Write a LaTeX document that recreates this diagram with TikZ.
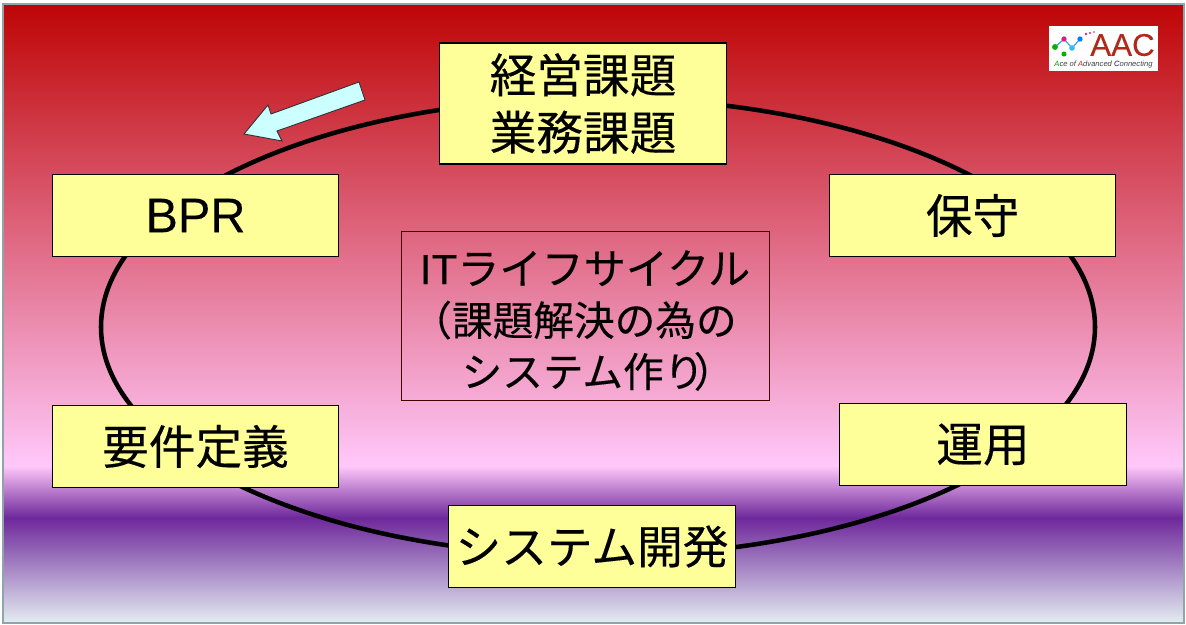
\documentclass[tikz,border=0pt]{standalone}
\usepackage{fontspec}
\setmainfont{Liberation Sans}
\newfontfamily\cjk[FakeBold=0.25]{Noto Sans CJK JP}
\newfontfamily\latinbody[FakeBold=0.1]{Liberation Sans}
\usetikzlibrary{shapes.geometric}
\definecolor{boxyellow}{RGB}{255,255,153}
\definecolor{arrowcyan}{RGB}{204,255,255}
\definecolor{frameteal}{RGB}{143,165,168}
\definecolor{logored}{RGB}{178,40,25}
\definecolor{bgtop}{RGB}{190,5,5}
\definecolor{bgpink}{RGB}{255,200,250}
\definecolor{bgpurple}{RGB}{110,40,155}
\definecolor{bgpale}{RGB}{228,237,242}
\pgfdeclareverticalshading{slidebg}{100bp}{
  color(0bp)=(bgpale);
  color(25bp)=(bgpale);
  color(33.5bp)=(bgpurple);
  color(37.7bp)=(bgpink);
  color(75bp)=(bgtop);
  color(100bp)=(bgtop)}
\tikzset{
  x=0.75pt,y=-0.75pt,
  topic/.style={draw=black,line width=0.9pt,fill=boxyellow,minimum width=214.8pt,minimum height=61pt,inner sep=0pt,align=center,text=black,font=\fontsize{35}{43}\selectfont\cjk},
  centerbox/.style={draw=black!75!red,line width=0.7pt,minimum width=276pt,minimum height=126.75pt,inner sep=0pt,align=center,text=black,font=\fontsize{30.5}{38.5}\selectfont\cjk},
  cycle/.style={draw=black,line width=3.4pt,ellipse,minimum width=745.5pt,minimum height=343.5pt,inner sep=0pt},
  dot/.style={circle,inner sep=0pt,minimum size=#1},
  dot/.default=4pt
}
\begin{document}
\begin{tikzpicture}
\useasboundingbox (0,0) rectangle (1186,625);
\fill[white] (0,0) rectangle (1186,625);
\shade[shading=slidebg] (3,4) rectangle (1184,623);
\draw[frameteal,line width=1.8pt] (3,4) rectangle (1184,623);
\node[cycle] (ring) at (598,327) {};
% arrow
\draw[fill=arrowcyan,draw=black!80,line width=0.7pt,line join=miter]
  (244,134) -- (268,105) -- (271,114) -- (359,82) -- (365,100) -- (277,131) -- (282,141) -- cycle;
% boxes
\node[topic,minimum height=90.75pt] (issues) at (583,103.5) {経営課題\\業務課題};
\node[topic] (bpr) at (195.5,215.5) {\fontsize{36.5}{43}\selectfont\latinbody BPR};
\node[topic] (hoshu) at (972.5,215.5) {保守};
\node[topic] (req) at (195.5,446.5) {要件定義};
\node[topic] (unyo) at (983,444.5) {運用};
\node[topic] (dev) at (592,546.5) {\fontsize{34.3}{43}\selectfont システム開発};
\node[centerbox] (core) at (585,315.5) {\rule{0pt}{33pt}{\fontsize{31.6}{38.5}\selectfont{\latinbody IT}ライフサイクル}\\（課題解決の為の\rule{16.5pt}{0pt}\\\rule{19.5pt}{0pt}システム作り\hspace{-8pt}）};
% logo
\node[fill=white,minimum width=81.75pt,minimum height=33.75pt,inner sep=0pt] (logo) at (1103.5,48.5) {};
\draw[cyan!70!teal,line width=0.8pt] (1055,47) -- (1064,39) -- (1072,48) -- (1080,39);
\node[dot=4.4pt,fill=green!70!black] (d1) at (1055,47) {};
\node[dot=4pt,fill=magenta!85!black] (d2) at (1064,39) {};
\node[dot=4.2pt,fill=cyan!80!white] (d3) at (1072,48) {};
\node[dot=4pt,fill=blue!50!cyan] (d4) at (1080,39) {};
\node[dot=3.8pt,fill=green!70!black] (d5) at (1064,54) {};
\node[dot=2.2pt,fill=magenta!85!black] (d6) at (1086,34) {};
\node[dot=1.8pt,fill=magenta!85!black] (d7) at (1090,33) {};
\node[dot=1.4pt,fill=magenta!85!black] (d8) at (1094,32) {};
\node[text=logored,font=\fontsize{23.5}{24}\selectfont\latinbody,inner sep=0pt] (aac) at (1122.5,45) {AAC};
\node[text=black!75,font=\fontsize{5.7}{6}\selectfont\itshape,inner sep=0pt] (slogan) at (1103.5,64.5) {{\color{green!60!black}A}ce of {\color{logored}A}dvanced {\color{blue!60!black}C}onnecting};
\end{tikzpicture}
\end{document}
